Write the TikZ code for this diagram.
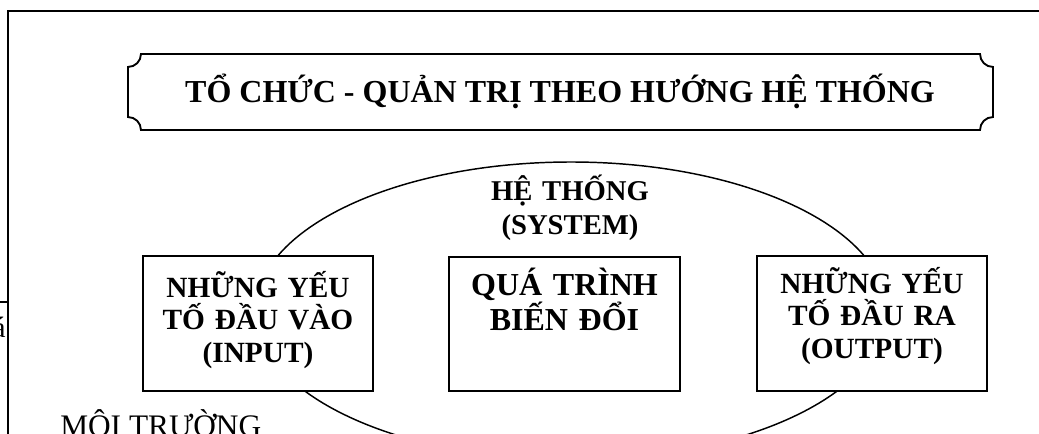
\documentclass[tikz,border=0pt]{standalone}
\usepackage{fontspec}
\setmainfont{Liberation Serif}
\usetikzlibrary{shapes.geometric}
\begin{document}
\begin{tikzpicture}[x=0.75pt,y=0.75pt,
  boxs/.style={draw,line width=1.4pt,fill=white,inner sep=0pt,minimum width=172.5pt,minimum height=101.25pt},
  btxt/.style={font=\fontsize{22}{24.5}\selectfont\bfseries,text width=172pt,align=center,inner sep=0pt,anchor=base},
  frame/.style={line width=1.4pt},
  ell/.style={draw,ellipse,line width=1.1pt,inner sep=0pt,minimum width=473.25pt,minimum height=223.5pt}
]
\useasboundingbox (0,0) rectangle (1039,433);
\clip (0,0) rectangle (1039,433);
\fill[white] (0,0) rectangle (1039,433);
% outer frame
\coordinate (fTR) at (1050,422);
\coordinate (fTL) at (8,422);
\coordinate (fBL) at (8,-10);
\draw[frame] (fTR) -- (fTL) -- (fBL);
\coordinate (sA) at (-5,131);
\coordinate (sB) at (8,131);
\draw[frame] (sA) -- (sB);
\node[font=\fontsize{22}{24}\selectfont,anchor=base east,inner sep=0pt] (cut) at (6,96) {á};
% title
\draw[line width=1.4pt] (141,379) -- (980,379)
  arc[start angle=180,end angle=270,radius=9.75pt] -- (993,316)
  arc[start angle=90,end angle=180,radius=9.75pt] -- (141,303)
  arc[start angle=0,end angle=90,radius=9.75pt] -- (128,366)
  arc[start angle=270,end angle=360,radius=9.75pt] -- cycle;
\node[font=\fontsize{24}{26}\selectfont\bfseries,anchor=base,inner sep=0pt] (title) at (560,330) {TỔ CHỨC - QUẢN TRỊ THEO HƯỚNG HỆ THỐNG};
% system ellipse
\node[ell] (sys) at (571,122) {};
\node[font=\fontsize{21.5}{25.5}\selectfont\bfseries,align=center,text width=200pt,inner sep=0pt,anchor=base] (systxt) at (570,233) {HỆ THỐNG\\(SYSTEM)};
% boxes
\node[boxs] (inB) at (258,109.5) {};
\node[boxs,minimum width=173.25pt,minimum height=100.5pt] (midB) at (564.5,109) {};
\node[boxs] (outB) at (872,109.5) {};
\node[btxt] (inT) at (258,136) {NHỮNG YẾU\\TỐ ĐẦU VÀO\\(INPUT)};
\node[btxt,font=\fontsize{24}{24}\selectfont\bfseries] (midT) at (564.5,138) {QUÁ TRÌNH\\BIẾN ĐỔI};
\node[btxt] (outT) at (872,140) {NHỮNG YẾU\\TỐ ĐẦU RA\\(OUTPUT)};
% environment label
\node[font=\fontsize{23.5}{26}\selectfont,anchor=base west,inner sep=0pt] (env) at (60,-3) {MÔI TRƯỜNG};
\end{tikzpicture}
\end{document}
